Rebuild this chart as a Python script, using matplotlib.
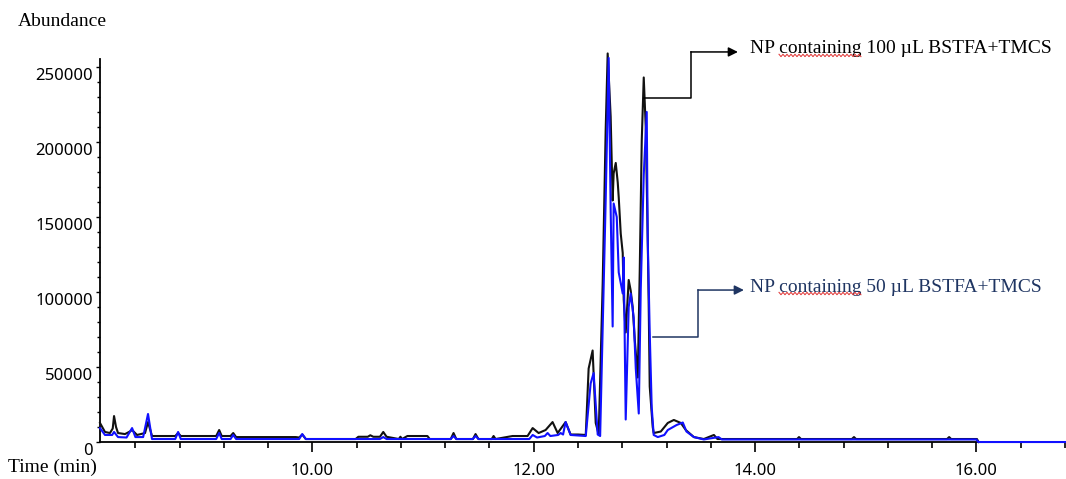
import numpy as np
import matplotlib.pyplot as plt
from matplotlib.ticker import MultipleLocator, FixedLocator, FormatStrFormatter
from matplotlib.transforms import ScaledTranslation

OUT_FILE = 'out.png'

# retention time (min) and abundance, 100 uL BSTFA+TMCS (black trace)
black_t = [8.08, 8.125, 8.17, 8.195, 8.207, 8.225, 8.243, 8.306, 8.35, 8.37,
           8.415, 8.487, 8.514, 8.55, 8.76, 8.786, 8.81, 9.13, 9.157, 9.18,
           9.26, 9.284, 9.31, 9.85, 9.88, 9.908, 9.94, 10.39, 10.415, 10.50,
           10.523, 10.55, 10.61, 10.64, 10.67, 10.78, 10.795, 10.81, 10.858, 11.039,
           11.06, 11.25, 11.275, 11.30, 11.45, 11.474, 11.50, 11.62, 11.637, 11.655,
           11.808, 11.944, 11.99, 12.044, 12.107, 12.17, 12.216, 12.288, 12.333, 12.40,
           12.47, 12.496, 12.532, 12.56, 12.587, 12.623, 12.65, 12.668, 12.695, 12.713,
           12.722, 12.741, 12.759, 12.768, 12.786, 12.804, 12.813, 12.831, 12.858, 12.876,
           12.894, 12.913, 12.94, 12.958, 12.976, 12.994, 13.012, 13.03, 13.039, 13.048,
           13.075, 13.084, 13.148, 13.211, 13.266, 13.329, 13.374, 13.447, 13.537, 13.628,
           13.66, 14.38, 14.397, 14.415, 14.875, 14.894, 14.912, 15.735, 15.754, 15.772,
           16.005, 16.02]
black_y = [12700, 6700, 6000, 9000, 17300, 10000, 6000, 5300, 7000, 8000,
           4700, 6000, 13300, 4000, 4000, 6000, 4000, 4000, 8000, 4000,
           4000, 6000, 3300, 3300, 3000, 5000, 2000, 2000, 3500, 3500,
           4500, 3500, 3500, 6700, 3500, 2000, 3500, 2000, 4000, 4000,
           2000, 2000, 6000, 2000, 2000, 5300, 2000, 2000, 4000, 2000,
           4000, 4000, 9300, 6000, 8000, 13300, 6000, 13300, 5000, 5000,
           4700, 49000, 61000, 12700, 5000, 106000, 208000, 259000, 217000, 161000,
           179000, 186000, 173000, 163000, 139000, 126000, 95000, 73000, 108000, 101000,
           90000, 68000, 43000, 115000, 201000, 243000, 210000, 135000, 90000, 37000,
           10000, 6000, 7000, 12700, 14700, 12700, 8000, 3300, 2000, 4700,
           2000, 2000, 3300, 2000, 2000, 3300, 2000, 2000, 3300, 2000,
           2000, 0]

# 50 uL BSTFA+TMCS (blue trace)
blue_t = [8.08, 8.125, 8.19, 8.207, 8.243, 8.32, 8.37, 8.40, 8.47, 8.514,
          8.55, 8.76, 8.786, 8.81, 9.13, 9.157, 9.18, 9.26, 9.284, 9.31,
          9.88, 9.908, 9.94, 10.61, 10.64, 10.67, 11.25, 11.275, 11.30, 11.45,
          11.474, 11.50, 11.96, 11.99, 12.03, 12.10, 12.125, 12.15, 12.22, 12.243,
          12.265, 12.288, 12.333, 12.47, 12.514, 12.541, 12.578, 12.60, 12.65, 12.677,
          12.695, 12.713, 12.722, 12.75, 12.768, 12.804, 12.813, 12.831, 12.858, 12.876,
          12.903, 12.922, 12.949, 12.967, 12.994, 13.021, 13.03, 13.048, 13.066, 13.084,
          13.121, 13.18, 13.211, 13.29, 13.347, 13.38, 13.447, 13.537, 13.67, 13.70,
          16.0, 16.017, 16.81]
blue_y = [9300, 4700, 4700, 6700, 3300, 3000, 9300, 3300, 3300, 18700,
          2000, 2000, 6700, 2000, 2000, 6000, 2000, 2000, 4700, 2000,
          2000, 5300, 2000, 2000, 3300, 2000, 2000, 4000, 2000, 2000,
          4000, 2000, 2000, 4700, 3000, 4000, 6000, 4000, 4700, 6000,
          5000, 13300, 4700, 4000, 39000, 46000, 5000, 4000, 161000, 256000,
          155000, 77000, 159000, 150000, 113000, 99000, 123000, 15000, 90000, 99000,
          83000, 49000, 19000, 102000, 178000, 220000, 135000, 73000, 23000, 4700,
          3300, 4700, 8000, 11300, 13000, 7000, 3300, 1700, 3300, 1700,
          1700, 0, 0]

y_ticks = [0, 50000, 100000, 150000, 200000, 250000]
y_minor = list(range(0, 255001, 10000))
x_ticks = [10, 12, 14, 16]

label_100 = 'NP containing 100 µL BSTFA+TMCS'
label_50 = 'NP containing 50 µL BSTFA+TMCS'

serif = 'Liberation Serif'
navy = '#1f3562'

fig = plt.figure(figsize=(10.66, 4.79), dpi=100)
ax = fig.add_axes([0.0938, 0.0772, 0.9062, 0.830])

ax.plot(black_t, black_y, color='#111111', lw=1.5, zorder=3, clip_on=False)
ax.plot(blue_t, blue_y, color='#1010ff', lw=1.5, zorder=3.1, clip_on=False)

ax.set_xlim(8.08, 16.81)
ax.set_ylim(0, 265000)

for s in ['top', 'right']:
    ax.spines[s].set_visible(False)
ax.spines['left'].set_bounds(0, 255000)
ax.spines['left'].set_linewidth(1.3)
ax.spines['bottom'].set_linewidth(1.3)

ax.set_xticks(x_ticks)
ax.xaxis.set_major_formatter(FormatStrFormatter('%.2f'))
ax.xaxis.set_minor_locator(MultipleLocator(0.4))
ax.set_yticks(y_ticks)
ax.yaxis.set_minor_locator(FixedLocator(y_minor))
ax.tick_params(axis='x', which='major', length=7, width=1.2, pad=8, labelsize=12)
ax.tick_params(axis='x', which='minor', length=4, width=1.2)
ax.tick_params(axis='y', which='major', length=3, width=1.0, pad=2, labelsize=12)
ax.tick_params(axis='y', which='minor', length=2.5, width=1.0)
for lab in ax.get_xticklabels() + ax.get_yticklabels():
    lab.set_fontfamily('Noto Sans')
# chemstation puts the y labels a little below their ticks
shift = ScaledTranslation(0, -5 / 72, fig.dpi_scale_trans)
for lab in ax.get_yticklabels():
    lab.set_transform(lab.get_transform() + shift)

fig.text(18 / 1066, 1 - 22 / 479, 'Abundance', family=serif, fontsize=14,
         va='center', ha='left')
fig.text(8 / 1066, 1 - 467 / 479, 'Time (min)', family=serif, fontsize=14,
         va='center', ha='left')

# elbow connectors to the labels
ax.plot([12.994, 13.419, 13.419], [229000, 229000, 260000], color='black',
        lw=1.1, clip_on=False, zorder=4)
ax.annotate('', xy=(13.845, 260000), xytext=(13.419, 260000),
            arrowprops=dict(arrowstyle='-|>', color='black', lw=1.1,
                            mutation_scale=14, shrinkA=0, shrinkB=0),
            annotation_clip=False)
t100 = ax.text(13.953, 262000, label_100, family=serif, fontsize=14,
               va='center', ha='left', color='black')

ax.plot([13.075, 13.483, 13.483], [70000, 70000, 101300], color=navy,
        lw=1.1, clip_on=False, zorder=4)
ax.annotate('', xy=(13.899, 101300), xytext=(13.483, 101300),
            arrowprops=dict(arrowstyle='-|>', color=navy, lw=1.1,
                            mutation_scale=14, shrinkA=0, shrinkB=0),
            annotation_clip=False)
t50 = ax.text(13.953, 103300, label_50, family=serif, fontsize=14,
              va='center', ha='left', color=navy)

# red spell-check squiggle under "containing", as in the word-processor copy
fig.canvas.draw()
rend = fig.canvas.get_renderer()


def text_width(s):
    tmp = fig.text(0, 0, s, family=serif, fontsize=14)
    w = tmp.get_window_extent(rend).width
    tmp.remove()
    return w


x_start = text_width('NP ')
x_end = text_width('NP containing')
for t in [t100, t50]:
    bb = t.get_window_extent(rend)
    xs = np.arange(bb.x0 + x_start, bb.x0 + x_end, 2.0)
    ys = bb.y0 + 2 + np.where(np.arange(len(xs)) % 2 == 0, 1.2, -1.2)
    pts = fig.transFigure.inverted().transform(np.column_stack([xs, ys]))
    fig.add_artist(plt.Line2D(pts[:, 0], pts[:, 1], color='#e03030', lw=0.7))

plt.savefig(OUT_FILE, dpi=100)
